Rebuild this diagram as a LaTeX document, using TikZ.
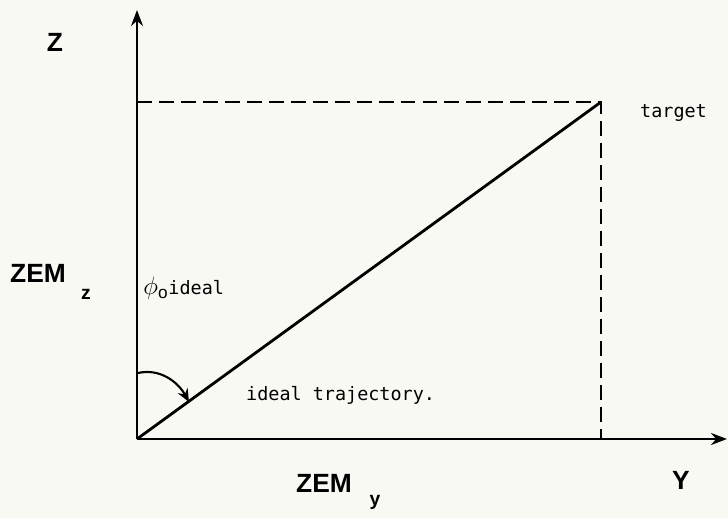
\documentclass[tikz,border=0pt]{standalone}
\usepackage{fontspec}
\setmainfont{Liberation Sans}
\newfontfamily\typefont{DejaVu Sans Mono}
\usetikzlibrary{arrows.meta}

\tikzset{
  axislab/.style={font=\bfseries\fontsize{15}{18}\selectfont},
  sublab/.style={font=\bfseries\fontsize{11}{13}\selectfont},
  typelab/.style={font=\typefont\fontsize{10.5}{13}\selectfont, anchor=west},
}

\begin{document}
\begin{tikzpicture}[x=0.02cm,y=-0.02cm]
\useasboundingbox[fill={rgb,255:red,249;green,249;blue,244}] (0,0) rectangle (728,518);
% --- axes and corners ---
\coordinate (o) at (137,439);
\coordinate (ztip) at (137,10);
\coordinate (ytip) at (727,439);
\coordinate (t) at (601,102);
\draw[line width=1.6pt, -{Stealth[length=3.2mm,width=2.4mm]}] (o) -- (ztip);
\draw[line width=1.6pt, -{Stealth[length=3.2mm,width=2.4mm]}] (o) -- (ytip);

% --- dashed frame to the target ---
\draw[line width=1.2pt, dash pattern=on 8.5pt off 4pt] (o|-t) -- (t) -- (t|-o);

% --- ideal trajectory ---
\draw[line width=1.6pt] (o) -- (t);

% --- angle arrow ---
\coordinate (a1) at (138,373);
\coordinate (a2) at (189,402);
\draw[line width=1.2pt, -{Stealth[length=2.6mm,width=2.2mm]}] (a1) .. controls (160,368) and (178,382) .. (a2);

% --- labels ---
\node[axislab] (zlab) at (55,42) {Z};
\node[axislab] (ylab) at (681,480) {Y};
\node[axislab] (zemz) at (38,273) {ZEM};
\node[sublab] (zemzsub) at (86,294) {z};
\node[axislab] (zemy) at (324,483) {ZEM};
\node[sublab] (zemysub) at (375,502) {y};
\node[anchor=west, inner sep=0pt] (phi) at (143,288)
  {\fontsize{14}{16}\selectfont$\phi_{\mathrm{o}}$\typefont\fontsize{10.5}{13}\selectfont ideal};
\node[typelab] (traj) at (240,395) {ideal trajectory.};
\node[typelab] (targ) at (634,113) {target};
\end{tikzpicture}
\end{document}
